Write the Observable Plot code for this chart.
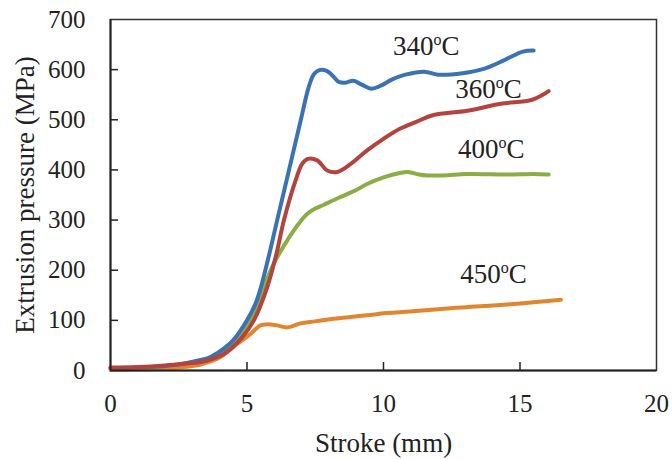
<!DOCTYPE html>
<html>
<head>
<meta charset="utf-8">
<script src="https://cdn.jsdelivr.net/npm/d3@7"></script>
<script src="https://cdn.jsdelivr.net/npm/@observablehq/plot@0.6"></script>
<style>
  html, body { margin: 0; padding: 0; background: #fff; }
  #chart { width: 672px; height: 459px; }
</style>
</head>
<body>
<div id="chart"></div>
<script>
// ---- Data ----
const seriesNames = ["340", "360", "400", "450"];
const seriesColors = ["#3b72b1", "#b3433f", "#8aae45", "#e2852f"];

const stroke340 = [0, 1, 2, 2.8, 3.3, 3.66, 4.21, 4.58, 5.0, 5.31, 5.52, 5.82, 6.08, 6.47, 6.96, 7.26, 7.45, 7.65, 7.9, 8.1, 8.35, 8.6, 8.9, 9.2, 9.55, 9.9, 10.3, 10.8, 11.5, 12.0, 12.9, 13.7, 14.5, 15.1, 15.5];
const press340  = [5, 6, 9, 15, 21, 27, 46, 66, 100, 133, 168, 233, 294, 384, 497, 565, 591, 599, 598, 590, 576, 574, 578, 570, 562, 568, 580, 590, 596, 590, 593, 602, 621, 636, 638];

const stroke360 = [0, 1, 2, 2.8, 3.3, 4.15, 4.82, 5.25, 5.74, 6.08, 6.35, 6.78, 7.02, 7.23, 7.57, 7.94, 8.3, 8.8, 9.4, 10.0, 10.6, 11.2, 11.8, 13.07, 14.3, 15.45, 16.05];
const press360  = [6, 7, 10, 14, 17, 33, 66, 100, 166, 233, 299, 379, 412, 422, 419, 399, 396, 412, 439, 462, 482, 496, 509, 518, 532, 540, 557];

const stroke400 = [0, 1, 2, 3, 3.5, 4.03, 4.7, 5.13, 5.5, 5.98, 6.47, 6.9, 7.2, 7.5, 7.8, 8.06, 8.42, 9.0, 9.4, 10.0, 10.6, 10.9, 11.3, 11.6, 12.2, 13.07, 14.5, 15.5, 16.05];
const press400  = [3, 4, 6, 13, 21, 33, 66, 100, 150, 213, 259, 293, 312, 323, 330, 337, 346, 360, 372, 385, 394, 396, 391, 389, 389, 392, 391, 392, 391];

const stroke450 = [0, 1, 2, 3, 3.3, 4.03, 4.64, 5.13, 5.49, 5.74, 6.1, 6.47, 6.96, 7.5, 8.17, 9.4, 10.0, 10.6, 12.45, 14.9, 16.5];
const press450  = [1, 2, 4, 9, 12, 27, 53, 73, 90, 92, 90, 86, 94, 98, 103, 110, 114, 116, 124, 133, 141];

// label anchor positions (data units)
const labelStroke = [11.57, 13.85, 13.95, 14.03];
const labelPress  = [646, 560, 441, 191];

const xTicks = [0, 5, 10, 15, 20];
const yTicks = [0, 100, 200, 300, 400, 500, 600, 700];
const xTitle = "Stroke (mm)";
const yTitle = "Extrusion pressure (MPa)";
const degSup = "o";
const unitC = "C";

// ---- Build table ----
const strokes = [stroke340, stroke360, stroke400, stroke450];
const presses = [press340, press360, press400, press450];
const rows = [];
seriesNames.forEach((name, i) => {
  strokes[i].forEach((s, j) => rows.push({series: name, stroke: s, pressure: presses[i][j]}));
});
const labels = seriesNames.map((name, i) => ({series: name, stroke: labelStroke[i], pressure: labelPress[i]}));
const drawOrder = ["400", "450", "340", "360"];

const W = 672, H = 459, mL = 110, mR = 16, mT = 19, mB = 89;
const innerW = W - mL - mR, innerH = H - mT - mB;
const FONT = "'Liberation Serif', 'Times New Roman', serif";

const chart = Plot.plot({
  width: W, height: H,
  marginLeft: mL, marginRight: mR, marginTop: mT, marginBottom: mB,
  style: {fontFamily: FONT, fontSize: "25px", color: "#222", background: "#fff"},
  x: {domain: [0, 20], ticks: xTicks},
  y: {domain: [0, 700], ticks: yTicks},
  color: {domain: seriesNames, range: seriesColors},
  marks: [
    Plot.frame({stroke: "#333", strokeWidth: 1.5}),
    Plot.tickX(xTicks.slice(1, -1), {x: d => d, stroke: "#222", strokeWidth: 1.5, insetTop: innerH - 8}),
    Plot.tickY(yTicks.slice(1, -1), {y: d => d, stroke: "#222", strokeWidth: 1.5, insetRight: innerW - 8}),
    Plot.axisX({ticks: xTicks, tickSize: 0, tickPadding: 24, label: null, fill: "#222"}),
    Plot.axisY({ticks: yTicks, tickSize: 0, tickPadding: 25, label: null, fill: "#222"}),
    Plot.text([xTitle], {text: d => d, frameAnchor: "bottom", textAnchor: "middle", dy: 73, lineAnchor: "middle", fill: "#222"}),
    Plot.text([yTitle], {text: d => d, frameAnchor: "left", textAnchor: "middle", dx: -85, rotate: -90, lineAnchor: "middle", fill: "#222"}),
    ...drawOrder.map(name => Plot.line(rows.filter(r => r.series === name), {
      x: "stroke", y: "pressure", stroke: "series", strokeWidth: 4, curve: "catmull-rom", strokeLinecap: "round"
    })),
    Plot.ruleY([0], {stroke: "#222", strokeWidth: 2}),
    Plot.ruleX([0], {stroke: "#222", strokeWidth: 2}),
    Plot.text(labels, {x: "stroke", y: "pressure", text: "series", textAnchor: "middle", lineAnchor: "middle", fill: "#222"})
  ]
});

const svg = d3.select(chart);
// explicit font sizes
svg.selectAll('g[aria-label$="tick label"]').attr("font-size", 25).attr("font-family", FONT);
svg.selectAll('g[aria-label$="tick label"] text').attr("font-size", 25);
svg.selectAll('g[aria-label="text"] text').attr("font-size", 27).attr("font-family", FONT);

// superscript "o" before C, kept as real text
svg.selectAll('g[aria-label="text"] text')
  .filter(function() { return seriesNames.includes(this.textContent); })
  .each(function() {
    const t = d3.select(this);
    const num = t.text();
    t.text(null);
    t.append("tspan").text(num);
    t.append("tspan").text(degSup).attr("font-size", 16).attr("dy", -10);
    t.append("tspan").text(unitC).attr("dy", 10);
  });

document.getElementById("chart").appendChild(chart);
</script>
</body>
</html>
